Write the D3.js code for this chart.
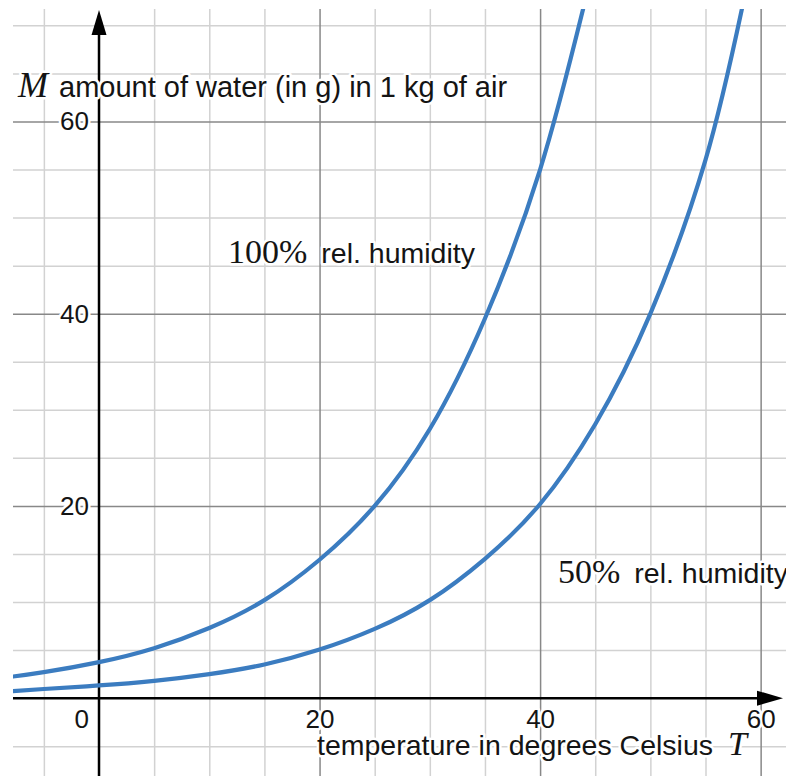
<!DOCTYPE html>
<html>
<head>
<meta charset="utf-8">
<script src="https://cdn.jsdelivr.net/npm/d3@7"></script>
<style>
  html, body { margin: 0; padding: 0; background: #fff; }
  svg { display: block; }
</style>
</head>
<body>
<svg id="chart" width="786" height="776"></svg>
<script>
// ---- data ----
const temp100 = [-7.8, -5, 0, 5, 10, 15, 20, 25, 30, 35, 40, 43.9];
const mass100 = [2.25, 2.7, 3.75, 5.2, 7.3, 10.2, 14.4, 20.0, 28.0, 39.5, 55.0, 71.7];
const temp50 = [-7.8, -5, 0, 5, 10, 15, 20, 25, 30, 35, 40, 45, 50, 55, 58.3];
const mass50 = [0.73, 0.95, 1.32, 1.8, 2.5, 3.5, 5.05, 7.2, 10.2, 14.5, 20.2, 28.5, 40.0, 56.0, 71.7];
const xTickLabels = [20, 40, 60];
const yTickLabels = [20, 40, 60];
const xMinorGrid = [-5, 5, 10, 15, 25, 30, 35, 45, 50, 55];
const xMajorGrid = [20, 40, 60];
const yMinorGrid = [-5, 5, 10, 15, 25, 30, 35, 45, 50, 55, 65, 70];
const yMajorGrid = [20, 40, 60];

(function () {
const svg = d3.select("#chart");
const pLeft = 13, pRight = 786, pTop = 9, pBottom = 776;

const x = d3.scaleLinear().domain([-7.8, 62.3]).range([pLeft, pRight]);
const y = d3.scaleLinear().domain([-8.1, 71.7]).range([pBottom, pTop]);

svg.append("defs").append("clipPath").attr("id", "plot")
  .append("rect").attr("x", pLeft).attr("y", pTop)
  .attr("width", pRight - pLeft).attr("height", pBottom - pTop);

const g = svg.append("g").attr("clip-path", "url(#plot)");

// grid via axes
function vGrid(vals, color) {
  const a = d3.axisBottom(x).tickValues(vals).tickSize(-(pBottom - pTop)).tickFormat("");
  const gg = g.append("g").attr("transform", `translate(0,${pBottom})`).call(a);
  gg.select(".domain").remove();
  gg.selectAll("line").attr("stroke", color).attr("stroke-width", 1.5);
}
function hGrid(vals, color) {
  const a = d3.axisLeft(y).tickValues(vals).tickSize(-(pRight - pLeft)).tickFormat("");
  const gg = g.append("g").attr("transform", `translate(${pLeft},0)`).call(a);
  gg.select(".domain").remove();
  gg.selectAll("line").attr("stroke", color).attr("stroke-width", 1.5);
}
vGrid(xMinorGrid, "#d2d2d2");
hGrid(yMinorGrid, "#d2d2d2");
vGrid(xMajorGrid, "#888888");
hGrid(yMajorGrid, "#888888");

// axes lines
const x0 = x(0), y0 = y(0);
g.append("line").attr("x1", pLeft).attr("x2", pRight - 20).attr("y1", y0).attr("y2", y0)
  .attr("stroke", "#000").attr("stroke-width", 2.5);
g.append("line").attr("x1", x0).attr("x2", x0).attr("y1", pBottom).attr("y2", pTop + 20)
  .attr("stroke", "#000").attr("stroke-width", 2.5);
// arrowheads
const tipY = pTop + 1;
svg.append("path").attr("d", `M${x0},${tipY} L${x0 - 7.5},${tipY + 25} L${x0 + 7.5},${tipY + 25} Z`).attr("fill", "#000");
const tipX = pRight - 3;
svg.append("path").attr("d", `M${tipX},${y0} L${tipX - 26},${y0 - 7.5} L${tipX - 26},${y0 + 7.5} Z`).attr("fill", "#000");

// curves
const line = d3.line().x(d => x(d[0])).y(d => y(d[1])).curve(d3.curveNatural);
const blue = "#3b7cc0";
g.append("path").datum(temp100.map((t, i) => [t, mass100[i]]))
  .attr("d", line).attr("fill", "none").attr("stroke", blue).attr("stroke-width", 4.2)
  .attr("stroke-linecap", "round");
g.append("path").datum(temp50.map((t, i) => [t, mass50[i]]))
  .attr("d", line).attr("fill", "none").attr("stroke", blue).attr("stroke-width", 4.2)
  .attr("stroke-linecap", "round");

// tick labels
const sans = "'Liberation Sans', Arial, Helvetica, sans-serif";
const serif = "'Liberation Serif', 'Times New Roman', serif";
function halo(sel) {
  sel.attr("stroke", "#fff").attr("stroke-width", 5).attr("stroke-linejoin", "round")
     .attr("paint-order", "stroke").attr("fill", "#141414");
}
const yAx = svg.append("g").attr("transform", `translate(${x0},0)`)
  .call(d3.axisLeft(y).tickValues(yTickLabels).tickSize(0).tickPadding(10));
yAx.select(".domain").remove();
yAx.selectAll("text").attr("font-family", sans).attr("font-size", 26).call(halo);

const xAx = svg.append("g").attr("transform", `translate(0,${y0})`)
  .call(d3.axisBottom(x).tickValues(xTickLabels).tickSize(0).tickPadding(11));
xAx.select(".domain").remove();
xAx.selectAll("text").attr("font-family", sans).attr("font-size", 26).call(halo);

svg.append("text").attr("x", x0 - 10).attr("y", y0 + 11).attr("dy", "0.71em")
  .attr("text-anchor", "end").attr("font-family", sans).attr("font-size", 26)
  .text("0").call(halo);

// axis titles
const yTitle = svg.append("text").attr("x", 18).attr("y", 97).call(halo);
yTitle.append("tspan").attr("font-family", serif).attr("font-style", "italic").attr("font-size", 36).text("M");
yTitle.append("tspan").attr("font-family", sans).attr("font-size", 29).attr("dx", 11).text("amount of water (in g) in 1 kg of air");

const xTitle = svg.append("text").attr("x", 317).attr("y", 755).call(halo);
xTitle.append("tspan").attr("font-family", sans).attr("font-size", 28.5).text("temperature in degrees Celsius");
xTitle.append("tspan").attr("font-family", serif).attr("font-style", "italic").attr("font-size", 34).attr("dx", 15).text("T");

// curve labels
const l100 = svg.append("text").attr("x", 228).attr("y", 263).call(halo);
l100.append("tspan").attr("font-family", serif).attr("font-size", 34).text("100%");
l100.append("tspan").attr("font-family", sans).attr("font-size", 28.5).attr("dx", 14).text("rel. humidity");

const l50 = svg.append("text").attr("x", 558).attr("y", 583).call(halo);
l50.append("tspan").attr("font-family", serif).attr("font-size", 34).text("50%");
l50.append("tspan").attr("font-family", sans).attr("font-size", 28.5).attr("dx", 14).text("rel. humidity");
})();
</script>
</body>
</html>
